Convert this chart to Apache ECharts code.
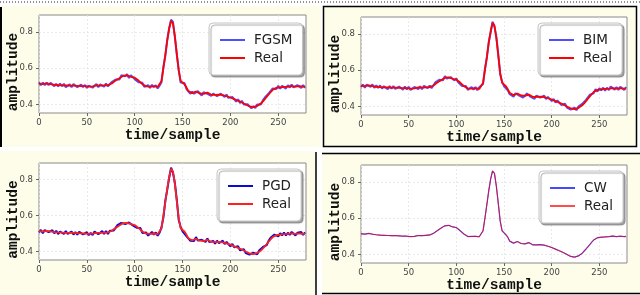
<!DOCTYPE html>
<html><head><meta charset="utf-8">
<script src="https://cdn.jsdelivr.net/npm/echarts@6/dist/echarts.min.js"></script>
<style>html,body{margin:0;padding:0;background:#fff}#c{width:640px;height:295px}</style>
</head><body><div id="c"></div>
<script>
// ---- data (sampled every 2 time steps) ----
const SAMPLE_STEP = 2;
const real = [
0.514,0.513,0.512,0.514,0.516,0.516,0.513,0.510,0.509,0.508,
0.507,0.507,0.506,0.506,0.505,0.505,0.504,0.504,0.504,0.503,
0.503,0.502,0.502,0.502,0.501,0.500,0.499,0.499,0.500,0.503,
0.505,0.505,0.504,0.505,0.506,0.507,0.507,0.510,0.516,0.525,
0.532,0.538,0.545,0.552,0.559,0.563,0.560,0.555,0.553,0.552,
0.548,0.540,0.532,0.522,0.512,0.504,0.500,0.498,0.499,0.502,
0.501,0.498,0.497,0.498,0.530,0.600,0.675,0.750,0.815,0.860,
0.845,0.775,0.680,0.585,0.530,0.520,0.512,0.495,0.475,0.466,
0.463,0.467,0.472,0.468,0.461,0.458,0.459,0.463,0.466,0.461,
0.454,0.452,0.453,0.454,0.455,0.454,0.452,0.449,0.446,0.443,
0.439,0.435,0.430,0.425,0.421,0.416,0.412,0.407,0.401,0.395,
0.390,0.387,0.386,0.388,0.393,0.400,0.407,0.418,0.430,0.443,
0.456,0.468,0.480,0.488,0.492,0.494,0.495,0.496,0.497,0.497,
0.499,0.501,0.502,0.500,0.499,0.500,0.502,0.500,0.499,0.499];
const fgsm = [
0.522,0.507,0.521,0.507,0.521,0.507,0.520,0.518,0.501,0.514,
0.500,0.516,0.501,0.514,0.496,0.499,0.511,0.496,0.513,0.509,
0.496,0.493,0.510,0.496,0.508,0.492,0.504,0.508,0.493,0.497,
0.513,0.496,0.511,0.511,0.498,0.516,0.500,0.505,0.524,0.516,
0.538,0.546,0.538,0.561,0.553,0.555,0.567,0.546,0.561,0.557,
0.540,0.547,0.523,0.528,0.520,0.497,0.494,0.507,0.491,0.509,
0.496,0.507,0.489,0.504,0.523,0.608,0.666,0.757,0.821,0.866,
0.854,0.769,0.673,0.593,0.521,0.525,0.519,0.487,0.484,0.460,
0.471,0.460,0.463,0.474,0.468,0.450,0.468,0.458,0.459,0.469,
0.448,0.461,0.460,0.446,0.446,0.460,0.460,0.442,0.455,0.437,
0.431,0.442,0.436,0.416,0.429,0.409,0.421,0.401,0.393,0.402,
0.399,0.379,0.392,0.381,0.401,0.391,0.401,0.425,0.439,0.435,
0.462,0.459,0.488,0.481,0.486,0.503,0.487,0.503,0.502,0.488,
0.507,0.494,0.511,0.494,0.491,0.507,0.508,0.491,0.507,0.492];
const bim = [
0.508,0.521,0.503,0.521,0.522,0.508,0.522,0.503,0.517,0.503,
0.516,0.499,0.512,0.513,0.496,0.513,0.498,0.513,0.497,0.495,
0.510,0.508,0.493,0.510,0.494,0.509,0.491,0.493,0.508,0.510,
0.496,0.511,0.496,0.514,0.513,0.501,0.515,0.501,0.509,0.533,
0.524,0.547,0.551,0.545,0.567,0.554,0.554,0.562,0.562,0.544,
0.555,0.534,0.540,0.513,0.518,0.513,0.492,0.491,0.507,0.493,
0.507,0.490,0.506,0.505,0.524,0.608,0.666,0.756,0.807,0.866,
0.838,0.783,0.686,0.576,0.537,0.512,0.521,0.489,0.468,0.474,
0.454,0.473,0.480,0.461,0.470,0.450,0.453,0.472,0.473,0.453,
0.460,0.443,0.461,0.461,0.449,0.446,0.461,0.442,0.454,0.449,
0.430,0.442,0.422,0.434,0.427,0.409,0.404,0.416,0.395,0.403,
0.383,0.393,0.395,0.380,0.400,0.391,0.415,0.412,0.437,0.435,
0.465,0.474,0.473,0.496,0.483,0.501,0.489,0.504,0.488,0.504,
0.491,0.510,0.508,0.493,0.507,0.491,0.509,0.506,0.491,0.508];
const pgd = [
0.507,0.521,0.503,0.520,0.523,0.508,0.507,0.519,0.502,0.516,
0.498,0.512,0.513,0.498,0.514,0.499,0.497,0.512,0.495,0.509,
0.495,0.511,0.509,0.496,0.492,0.508,0.492,0.505,0.492,0.512,
0.512,0.497,0.498,0.514,0.499,0.515,0.498,0.516,0.523,0.517,
0.526,0.547,0.538,0.560,0.565,0.554,0.552,0.562,0.562,0.546,
0.556,0.533,0.527,0.531,0.504,0.511,0.506,0.489,0.492,0.510,
0.495,0.507,0.489,0.505,0.535,0.591,0.683,0.743,0.809,0.866,
0.837,0.781,0.687,0.576,0.538,0.513,0.518,0.487,0.484,0.461,
0.470,0.459,0.481,0.462,0.454,0.466,0.465,0.454,0.473,0.453,
0.459,0.460,0.444,0.461,0.447,0.448,0.461,0.442,0.454,0.449,
0.430,0.443,0.425,0.418,0.430,0.408,0.418,0.414,0.392,0.403,
0.384,0.380,0.395,0.393,0.385,0.407,0.401,0.426,0.421,0.436,
0.462,0.477,0.472,0.495,0.486,0.485,0.503,0.491,0.506,0.490,
0.505,0.493,0.510,0.507,0.490,0.505,0.495,0.509,0.493,0.507];
const cw = [
0.515,0.513,0.513,0.514,0.517,0.516,0.512,0.510,0.509,0.508,
0.507,0.506,0.506,0.506,0.505,0.504,0.504,0.504,0.505,0.503,
0.503,0.502,0.501,0.502,0.501,0.500,0.499,0.498,0.500,0.504,
0.505,0.505,0.504,0.506,0.506,0.507,0.508,0.510,0.517,0.525,
0.531,0.538,0.546,0.552,0.558,0.563,0.561,0.555,0.552,0.552,
0.549,0.540,0.531,0.522,0.513,0.504,0.499,0.498,0.500,0.502,
0.500,0.498,0.498,0.498,0.531,0.601,0.674,0.751,0.816,0.859,
0.846,0.774,0.681,0.584,0.531,0.519,0.512,0.496,0.474,0.466,
0.463,0.468,0.472,0.467,0.461,0.459,0.459,0.462,0.466,0.462,
0.454,0.451,0.453,0.455,0.455,0.453,0.452,0.450,0.446,0.442,
0.439,0.436,0.430,0.424,0.421,0.417,0.412,0.406,0.401,0.396,
0.390,0.386,0.386,0.389,0.393,0.399,0.408,0.418,0.431,0.443,
0.455,0.469,0.480,0.487,0.493,0.494,0.496,0.496,0.497,0.498,
0.499,0.500,0.502,0.501,0.499,0.500,0.501,0.500,0.499,0.500];
const attackNames = ['FGSM','BIM','PGD','CW'];
const realName = 'Real';
const xTicks = [0,50,100,150,200,250];
const yTicks = [0.4,0.6,0.8];
const xLabel = 'time/sample';
const yLabel = 'amplitude';
const X_MAX = 279;

// ---- layout & style ----
const CREAM = '#fdfdea';
const adversarial = [fgsm, bim, pgd, cw];
const layout = [
  {grid:{left:39,top:15,width:267,height:98}, legend:{left:209,top:23}},
  {grid:{left:361,top:17,width:266,height:98}, legend:{left:538,top:23}},
  {grid:{left:39,top:163,width:267,height:97}, legend:{left:217,top:169}},
  {grid:{left:361,top:165,width:266,height:98}, legend:{left:539,top:171}}
];
const advStyle = [
  {color:'rgba(20,20,255,0.75)', width:2},
  {color:'rgba(20,20,255,0.75)', width:2},
  {color:'#0a0ad8', width:2},
  {color:'rgba(40,40,255,0.85)', width:1.2}
];
const realStyle = [
  {color:'#ff0000', width:1.8},
  {color:'#ff0000', width:1.8},
  {color:'#ff2020', width:1.8},
  {color:'rgba(255,0,0,0.7)', width:1}
];
const toPairs = arr => arr.map((v, i) => [i * SAMPLE_STEP, v]);

const grids = [], xAxes = [], yAxes = [], series = [], legends = [];
layout.forEach((L, i) => {
  grids.push(Object.assign({show:true, backgroundColor:'#fff', borderColor:'#8a8a8a', borderWidth:1, outerBoundsMode:'none', containLabel:false}, L.grid));
  xAxes.push({
    type:'value', gridIndex:i, min:0, max:X_MAX,
    name:xLabel, nameLocation:'middle', nameGap:15, nameMoveOverlap:false,
    nameTextStyle:{fontFamily:'Liberation Mono', fontWeight:'bold', fontSize:14.5, color:'#111'},
    axisLine:{show:false},
    axisTick:{show:true, length:3, lineStyle:{color:'#666'}, customValues:xTicks},
    axisLabel:{show:true, margin:5, fontSize:8.5, color:'#444', fontFamily:'DejaVu Sans', customValues:xTicks},
    splitLine:{show:true, lineStyle:{color:'#e4e4e4', type:[2,2], width:0.8}}
  });
  yAxes.push({
    type:'value', gridIndex:i, min:0.354, max:0.892,
    name:yLabel, nameLocation:'middle', nameRotate:90, nameGap:18, nameMoveOverlap:false,
    nameTextStyle:{fontFamily:'Liberation Mono', fontWeight:'bold', fontSize:14.5, color:'#111', padding:[0,16,0,0]},
    axisLine:{show:false},
    axisTick:{show:true, length:3, lineStyle:{color:'#666'}, customValues:yTicks},
    axisLabel:{show:true, margin:6, fontSize:8.5, color:'#444', fontFamily:'DejaVu Sans', customValues:yTicks,
      formatter: v => v.toFixed(1)},
    splitLine:{show:true, lineStyle:{color:'#e4e4e4', type:[2,2], width:0.8}}
  });
  series.push({
    name:attackNames[i], type:'line', xAxisIndex:i, yAxisIndex:i, data:toPairs(adversarial[i]),
    symbol:'none', z:2, lineStyle:{color:advStyle[i].color, width:advStyle[i].width},
    itemStyle:{color:advStyle[i].color}
  });
  series.push({
    name:realName, type:'line', xAxisIndex:i, yAxisIndex:i, data:toPairs(real),
    symbol:'none', z:3, lineStyle:{color:realStyle[i].color, width:realStyle[i].width},
    itemStyle:{color:realStyle[i].color}
  });
  legends.push(Object.assign({
    orient:'vertical', padding:[9,10,9,11], itemGap:2, itemWidth:25, itemHeight:2, icon:'rect',
    backgroundColor:'#fff', borderColor:'#c4c4c4', borderWidth:1, borderRadius:4,
    shadowColor:'rgba(0,0,0,0.35)', shadowBlur:1, shadowOffsetX:2, shadowOffsetY:2,
    textStyle:{fontFamily:'DejaVu Sans', fontSize:13.5, color:'#222', padding:[0,0,0,4], lineHeight:16},
    selectedMode:false,
    data:[
      {name:attackNames[i], itemStyle:{color:advStyle[i].color, borderWidth:0}},
      {name:realName, itemStyle:{color:realStyle[i].color, borderWidth:0}}
    ]
  }, L.legend));
});

const graphic = [
  {type:'rect', z:-10, shape:{x:0,y:6,width:321,height:141}, style:{fill:CREAM}},
  {type:'rect', z:-10, shape:{x:323,y:6,width:314,height:140}, style:{fill:CREAM}},
  {type:'rect', z:-10, shape:{x:0,y:151,width:316,height:144}, style:{fill:CREAM}},
  {type:'rect', z:-10, shape:{x:322,y:153,width:318,height:141}, style:{fill:CREAM}},
  {type:'line', z:50, shape:{x1:0,y1:2,x2:640,y2:2}, style:{stroke:'#222', lineWidth:1, lineDash:[1,2]}},
  {type:'line', z:50, shape:{x1:1,y1:7,x2:1,y2:147}, style:{stroke:'#000', lineWidth:2}},
  {type:'rect', z:50, shape:{x:323.5,y:6.5,width:313,height:140}, style:{fill:null, stroke:'#000', lineWidth:1.5}},
  {type:'line', z:50, shape:{x1:316,y1:152,x2:316,y2:295}, style:{stroke:'#000', lineWidth:1.5}},
  {type:'line', z:50, shape:{x1:322,y1:153.5,x2:640,y2:153.5}, style:{stroke:'#000', lineWidth:1.5}},
  {type:'line', z:50, shape:{x1:322,y1:293.5,x2:640,y2:293.5}, style:{stroke:'#000', lineWidth:1.5}}
];

const chart = echarts.init(document.getElementById('c'), null, {renderer:'canvas'});
chart.setOption({
  animation:false,
  backgroundColor:'#fff',
  grid:grids, xAxis:xAxes, yAxis:yAxes, series:series, legend:legends, graphic:graphic
});
</script></body></html>
